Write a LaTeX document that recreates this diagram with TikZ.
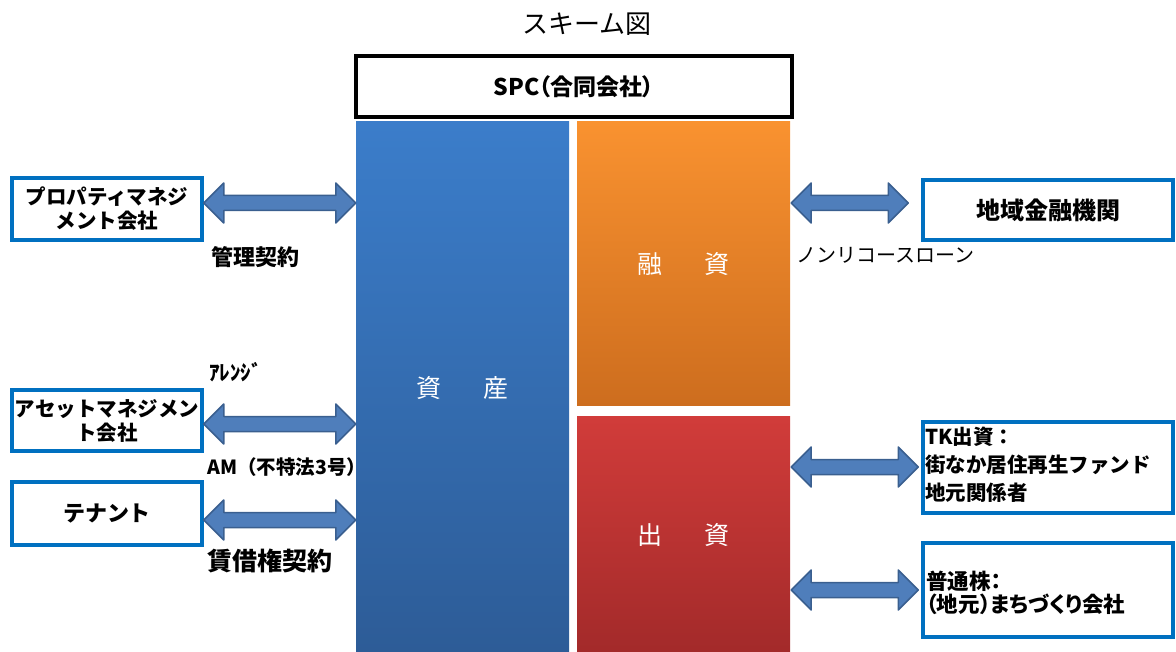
\documentclass[tikz,border=0pt]{standalone}
\usepackage{fontspec}
\setmainfont{Noto Sans CJK JP}
\usetikzlibrary{calc}
\definecolor{boxblue}{HTML}{0070C0}
\definecolor{arrfill}{HTML}{4F7EBB}
\definecolor{arrline}{HTML}{3A5F8F}
\definecolor{astop}{HTML}{3B7DCA}
\definecolor{asbot}{HTML}{2D5C97}
\definecolor{fntop}{HTML}{F99230}
\definecolor{fnbot}{HTML}{CD6D1E}
\definecolor{eqtop}{HTML}{D13C3A}
\definecolor{eqbot}{HTML}{A32A2A}
\newcommand\fsz[2]{\fontsize{#1pt}{#2pt}\selectfont}
\newcommand\fatarrow[3]{%
  \filldraw[fatarrow] let \p1=#1, \p2=#2, \p3=(0,#3) in
  (\x1,\y3) -- (\x1+20pt,\y3+20pt) -- (\x1+20pt,\y3+7.5pt) -- (\x2-20pt,\y3+7.5pt)
  -- (\x2-20pt,\y3+20pt) -- (\x2,\y3) -- (\x2-20pt,\y3-20pt) -- (\x2-20pt,\y3-7.5pt)
  -- (\x1+20pt,\y3-7.5pt) -- (\x1+20pt,\y3-20pt) -- cycle;}
\tikzset{
  sidebox/.style={draw=boxblue, line width=3.5pt, fill=white, inner sep=0pt, font=\bfseries\fsz{20.5}{24}, align=center},
  fatarrow/.style={fill=arrfill, draw=arrline, line width=1.5pt, line join=round},
  block/.style={inner sep=0pt, text=white, font=\fsz{25}{29}},
  lbl/.style={inner sep=0pt, font=\bfseries\fsz{22}{26}},
}
\begin{document}
\begin{tikzpicture}[x=1pt,y=-1pt]
\useasboundingbox (0,0) rectangle (1176,652);
% title
\node[inner sep=0pt, font=\fsz{26}{30}] (title) at (587,24) {スキーム図};
% SPC
\node[draw=black, line width=4pt, minimum width=436pt, minimum height=61pt, inner sep=0pt, font=\bfseries\fsz{23}{27}\addfontfeature{RawFeature=+palt}] (spc) at (574,86.5) {SPC（合同会社）};
% blocks
\node[block, minimum width=213pt, minimum height=530pt, top color=astop, bottom color=asbot] (asset) at (462.5,387) {};
\node[block] (assetlbl) at (462.5,388) {資\hspace{1.65em}産};
\node[block, minimum width=213pt, minimum height=284pt, top color=fntop, bottom color=fnbot] (fin) at (683.5,264) {};
\node[block] (finlbl) at (683.5,264) {融\hspace{1.65em}資};
\node[block, minimum width=213pt, minimum height=236pt, top color=eqtop, bottom color=eqbot] (eq) at (683.5,534) {};
\node[block] (eqlbl) at (683.5,535) {出\hspace{1.65em}資};
% left boxes
\node[sidebox, minimum width=190pt, minimum height=62pt] (pm) at (107,209) {プロパティマネジ\\メント会社};
\node[sidebox, minimum width=190pt, minimum height=61pt] (amc) at (107,420.5) {アセットマネジメン\\ト会社};
\node[sidebox, minimum width=190pt, minimum height=63pt, font=\bfseries\fsz{22}{26}] (ten) at (107,513.5) {テナント};
% right boxes
\node[sidebox, minimum width=250pt, minimum height=60pt, font=\bfseries\fsz{24}{28}] (bank) at (1048,210) {地域金融機関};
\node[sidebox, minimum width=250pt, minimum height=91pt] (tk) at (1048,467.5) {};
\node[anchor=west, inner sep=0pt, align=left, font=\bfseries\fsz{20.5}{28}] (tktxt) at (925,465) {TK出資：\\街なか居住再生ファンド\\地元関係者};
\node[sidebox, minimum width=250pt, minimum height=94pt] (cs) at (1048,590) {};
\node[anchor=west, inner sep=0pt, align=left, font=\bfseries\fsz{21.5}{23}\addfontfeature{RawFeature=+palt}] (cstxt) at (926,593) {普通株：\\（地元）まちづくり会社};
% arrows
\fatarrow{(pm.east)}{(asset.west)}{203}
\fatarrow{(amc.east)}{(asset.west)}{424}
\fatarrow{(ten.east)}{(asset.west)}{520}
\fatarrow{($(fin.east)+(1,0)$)}{($(bank.west)+(-13,0)$)}{203}
\fatarrow{($(eq.east)+(1,0)$)}{($(tk.west)+(-3,0)$)}{467}
\fatarrow{($(eq.east)+(1,0)$)}{($(cs.west)+(-3,0)$)}{590}
% labels
\node[lbl] (l1) at (255,257) {管理契約};
\node[lbl, anchor=west, font=\bfseries\fsz{21}{25}] (l2) at (209,372) {ｱﾚﾝｼﾞ};
\node[lbl, anchor=west, font=\bfseries\fsz{19.5}{23}] (l3) at (207,467) {AM（不特法3号）};
\node[lbl, anchor=west, font=\bfseries\fsz{25}{29}] (l4) at (207,561) {賃借権契約};
\node[lbl, anchor=west, font=\fsz{20}{24}] (l5) at (796,255) {ノンリコースローン};
\end{tikzpicture}
\end{document}
